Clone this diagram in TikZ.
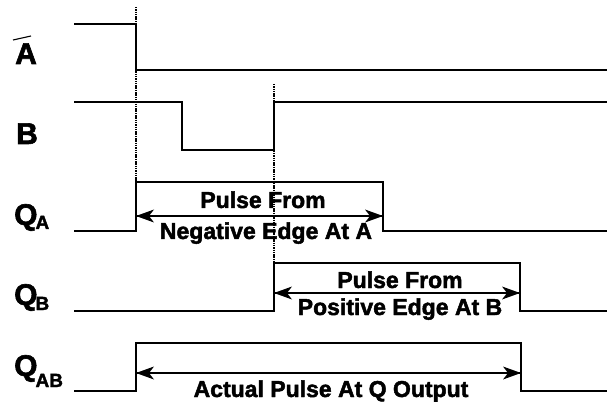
\documentclass[tikz,border=0pt]{standalone}
\usepackage{fontspec}
\setmainfont{Liberation Sans}[BoldFeatures={FakeBold=2}]
\begin{document}
\begin{tikzpicture}[x=1pt,y=-1pt,
  sig/.style={line width=1.4pt, line join=miter},
  guide/.style={line width=1.3pt, dash pattern=on 1.5pt off 0.8pt},
  span/.style={line width=1.3pt},
  headl/.style={fill=black},
  lbl/.style={font=\fontsize{30}{30}\selectfont\bfseries, inner sep=0pt, anchor=base west},
  txt/.style={font=\fontsize{23}{23}\selectfont\bfseries, inner sep=0pt, anchor=base}]
\useasboundingbox (0,0) rectangle (607,403);
% guide lines
\draw[guide] (136,7) -- (136,231);
\draw[guide] (274,84) -- (274,311);
% signals
\draw[sig] (74,24) -- (136,24) -- (136,70) -- (607,70);
\draw[sig] (74,102) -- (182,102) -- (182,150) -- (274,150) -- (274,102) -- (607,102);
\draw[sig] (74,231) -- (136,231) -- (136,182) -- (383,182) -- (383,231) -- (607,231);
\draw[sig] (74,311) -- (274,311) -- (274,263) -- (520,263) -- (520,311) -- (607,311);
\draw[sig] (74,391) -- (136,391) -- (136,343) -- (521,343) -- (521,391) -- (607,391);
% labels
\node[lbl] (la) at (15,64) {A};
\draw[line width=1.1pt] (13,40) -- (31,36);
\node[lbl] (lb) at (16,144) {B};
\node[lbl] (lqa) at (14,225) {Q\kern-2pt\raisebox{-4pt}{\fontsize{19}{19}\selectfont A}};
\node[lbl] (lqb) at (14,305) {Q\kern-2pt\raisebox{-5pt}{\fontsize{19}{19}\selectfont B}};
\node[lbl] (lqab) at (14,376) {Q\kern-2pt\raisebox{-11pt}{\fontsize{19}{19}\selectfont AB}};
% pulse arrows
\coordinate (a1) at (136,216); \coordinate (a2) at (383,216);
\draw[span] (a1) -- (a2);
\fill[headl] (a1) -- ++(18,-6.5) -- ++(-5,6.5) -- ++(5,6.5) -- cycle;
\fill[headl] (a2) -- ++(-18,-6.5) -- ++(5,6.5) -- ++(-5,6.5) -- cycle;
\node[txt] (t1) at (263,208) {Pulse From};
\node[txt] (t2) at (266,239) {Negative Edge At A};
\coordinate (b1) at (274,293); \coordinate (b2) at (520,293);
\draw[span] (b1) -- (b2);
\fill[headl] (b1) -- ++(18,-6.5) -- ++(-5,6.5) -- ++(5,6.5) -- cycle;
\fill[headl] (b2) -- ++(-18,-6.5) -- ++(5,6.5) -- ++(-5,6.5) -- cycle;
\node[txt] (t3) at (400,288) {Pulse From};
\node[txt] (t4) at (400,315) {Positive Edge At B};
\coordinate (c1) at (136,373); \coordinate (c2) at (521,373);
\draw[span] (c1) -- (c2);
\fill[headl] (c1) -- ++(18,-6.5) -- ++(-5,6.5) -- ++(5,6.5) -- cycle;
\fill[headl] (c2) -- ++(-18,-6.5) -- ++(5,6.5) -- ++(-5,6.5) -- cycle;
\node[txt] (t5) at (331,397) {Actual Pulse At Q Output};
\end{tikzpicture}
\end{document}
